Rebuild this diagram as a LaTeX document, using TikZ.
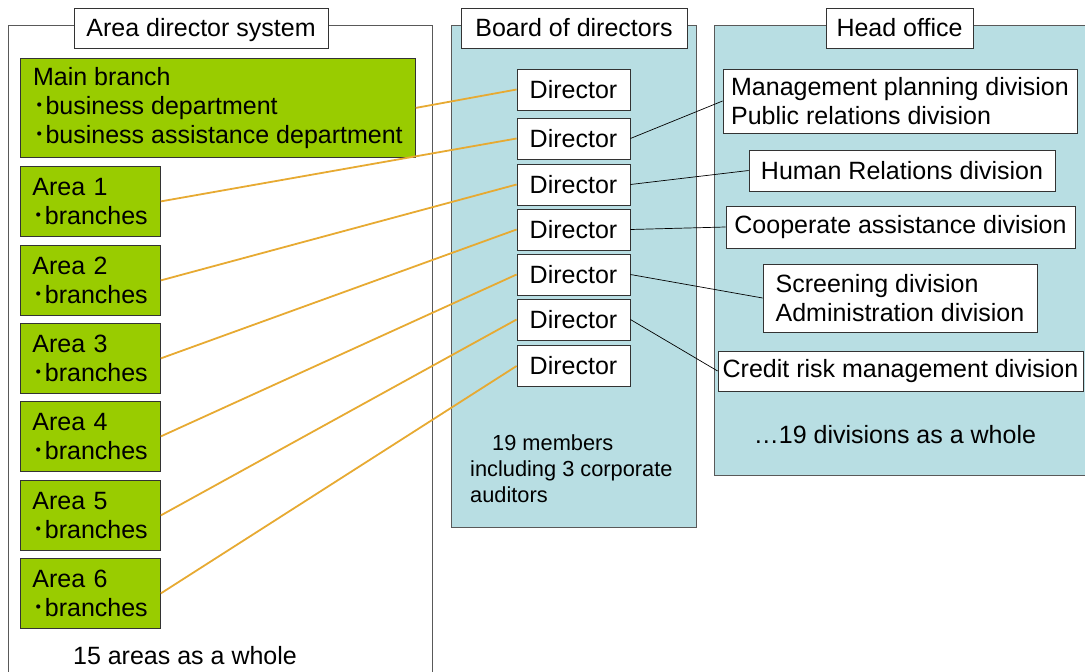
\documentclass[tikz,border=0pt]{standalone}
\usepackage{fontspec}
\setmainfont{Liberation Sans}
\newfontfamily\cjk{Noto Sans CJK JP}
\usetikzlibrary{positioning}
\definecolor{areagreen}{RGB}{153,204,0}
\definecolor{boardblue}{RGB}{184,222,227}
\definecolor{wireorange}{RGB}{231,170,50}
\newcommand{\dotitem}{{\cjk ･}}

\tikzset{
  frame/.style={draw=black!65, line width=0.8pt},
  titlebox/.style={draw=black!80, fill=white, line width=0.8pt, minimum height=40pt, inner xsep=10pt, text depth=2pt},
  areabox/.style={draw=black!80, fill=areagreen, line width=0.8pt, anchor=north west, align=left, inner xsep=12pt, inner ysep=0pt},
  director/.style={draw=black!80, fill=white, line width=0.8pt, minimum width=113pt, minimum height=41pt, inner sep=0pt},
  division/.style={draw=black!80, fill=white, line width=0.8pt, align=left, inner sep=0pt},
  areawire/.style={wireorange, line width=1.8pt},
  divwire/.style={black, line width=0.7pt},
}

\begin{document}
\begin{tikzpicture}[x=1pt, y=-1pt, font=\fontsize{25}{29}\selectfont]
\useasboundingbox (0,0) rectangle (1085,672);

% the three column frames
\draw[frame] (8,672) -- (8,25) -- (432,25) -- (432,672);
\filldraw[frame, fill=boardblue] (451,25) rectangle (696,527);
\filldraw[frame, fill=boardblue] (1086,25) -- (714,25) -- (714,475) -- (1086,475);

\node[titlebox, minimum width=254pt] (areatitle) at (201,28) {Area director system};
\node[titlebox, minimum width=226pt] (boardtitle) at (574,28) {Board of directors};
\node[titlebox, minimum width=147pt] (officetitle) at (899.5,28) {Head office};

% branches and areas
\node[areabox, minimum width=395pt, minimum height=99pt] (main) at (20,58)
  {Main branch\\\dotitem business department\\\dotitem business assistance department};
\foreach \i/\y in {1/166, 2/245, 3/323, 4/401, 5/480, 6/558}
  \node[areabox, text width=116pt, minimum height=70pt] (area\i) at (20,\y)
    {Area \i\\\dotitem branches};
\node (areanote) at (185,656) {15 areas as a whole};

% directors
\foreach \i/\y in {1/89.5, 2/138.5, 3/184.5, 4/229.5, 5/274.5, 6/319.5, 7/366}
  \node[director] (dir\i) at (573.5,\y) {Director};
\node[align=left, anchor=west, inner sep=0pt, font=\fontsize{21.8}{26}\selectfont] (boardnote) at (470,469)
  {\hspace*{22pt}19 members\\including 3 corporate\\auditors};

% head office divisions
\node[division, minimum width=354pt, minimum height=64pt] (planning) at (900,101)
  {Management planning division\\Public relations division};
\node[division, minimum width=306pt, minimum height=41pt] (human) at (902,170.5) {Human Relations division};
\node[division, minimum width=349pt, minimum height=42pt] (assist) at (900.5,227) {Cooperate assistance division};
\node[division, minimum width=274pt, minimum height=68pt] (screening) at (900,298)
  {Screening division\\Administration division};
\node[division, minimum width=365pt, minimum height=40pt] (credit) at (900.5,371) {Credit risk management division};
\node (officenote) at (895,435) {…19 divisions as a whole};

% area directors
\draw[areawire] (main.east) -- (dir1.west);
\foreach \i [evaluate=\i as \j using int(\i+1)] in {1,...,6}
  \draw[areawire] (area\i.east) -- (dir\j.west);

% directors in charge of head office divisions
\draw[divwire] (dir2.east) -- (planning.west);
\draw[divwire] (dir3.east) -- (human.west);
\draw[divwire] (dir4.east) -- (assist.west);
\draw[divwire] (dir5.east) -- (screening.west);
\draw[divwire] (dir6.east) -- (credit.west);
\end{tikzpicture}
\end{document}
